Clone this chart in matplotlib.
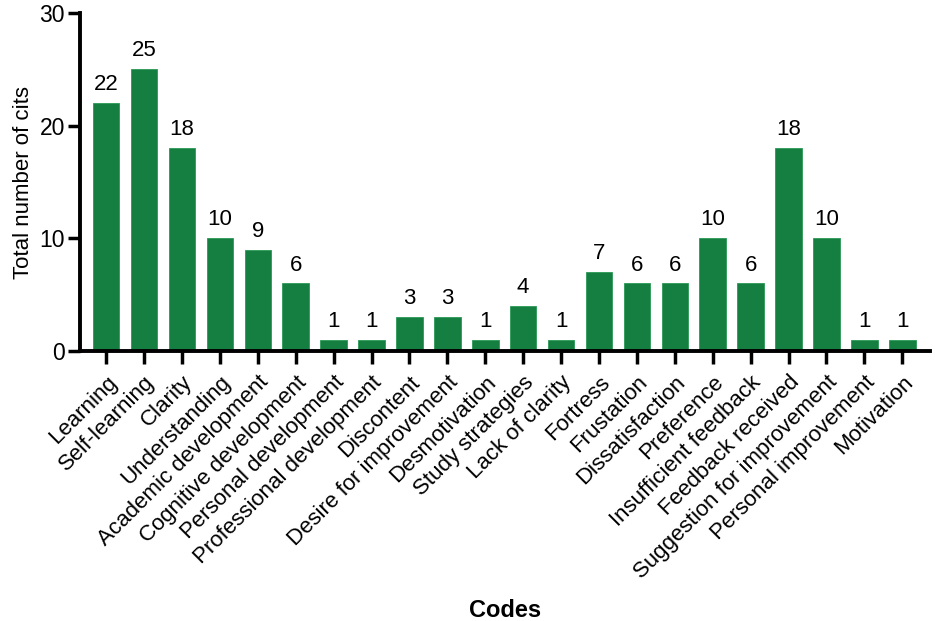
import numpy as np
import matplotlib.pyplot as plt

codes = [
    "Learning", "Self-learning", "Clarity", "Understanding",
    "Academic development", "Cognitive development", "Personal development",
    "Professional development", "Discontent", "Desire for improvement",
    "Desmotivation", "Study strategies", "Lack of clarity", "Fortress",
    "Frustation", "Dissatisfaction", "Preference", "Insufficient feedback",
    "Feedback received", "Suggestion for improvement", "Personal improvement",
    "Motivation",
]
counts = [22, 25, 18, 10, 9, 6, 1, 1, 3, 3, 1, 4, 1, 7, 6, 6, 10, 6, 18, 10, 1, 1]
y_ticks = [0, 10, 20, 30]

plt.rcParams["font.family"] = ["Liberation Sans", "DejaVu Sans"]

fig = plt.figure(figsize=(9.35, 6.21), dpi=100)
ax = fig.add_axes([0.0856, 0.4348, 0.9094, 0.5442])

x = np.arange(len(codes))
ax.bar(x, counts, width=0.7, color="#157f41", edgecolor="#2a9a55", linewidth=0.6, zorder=2)

for xi, c in zip(x, counts):
    ax.text(xi, c + 0.7, str(c), ha="center", va="bottom", fontsize=16)

ax.set_xlim(-0.69, len(codes) - 0.26)
ax.set_ylim(0, 30)
ax.set_yticks(y_ticks)
ax.set_xticks(x)
ax.set_xticklabels(codes, rotation=45, ha="right", va="top",
                   rotation_mode="anchor", fontsize=16)
ax.tick_params(axis="y", labelsize=16.5, width=2.5, length=9, pad=2)
ax.tick_params(axis="x", width=2.5, length=9, pad=6)

for side in ("top", "right"):
    ax.spines[side].set_visible(False)
for side in ("left", "bottom"):
    ax.spines[side].set_linewidth(2.8)

ax.set_ylabel("Total number of cits", fontsize=16, labelpad=4)
ax.set_xlabel("Codes", fontsize=17, fontweight="bold", labelpad=11)

fig.savefig("out.png", dpi=100)
